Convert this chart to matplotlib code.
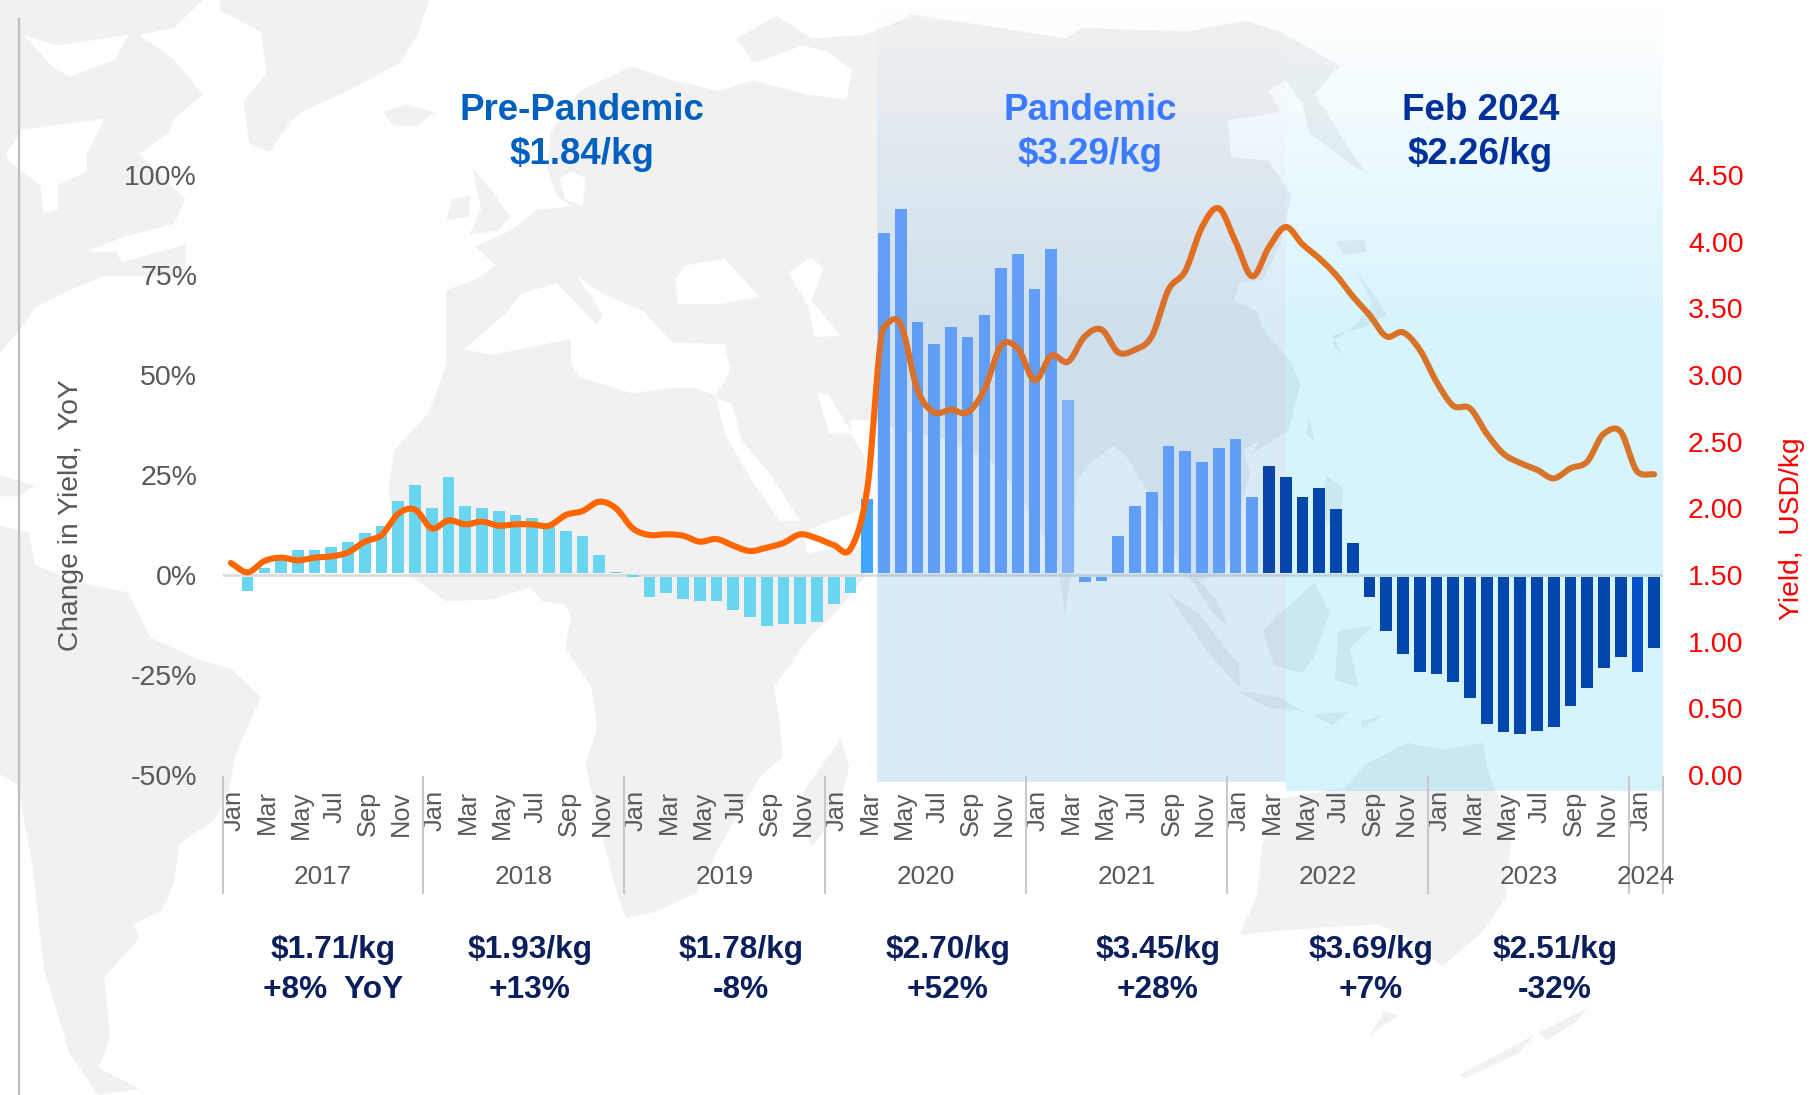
import numpy as np
import matplotlib
matplotlib.use('Agg')
import matplotlib.pyplot as plt
from matplotlib.patches import Polygon
from matplotlib.transforms import ScaledTranslation

plt.rcParams['font.family'] = ['Liberation Sans', 'DejaVu Sans']

months = ['Jan', 'Feb', 'Mar', 'Apr', 'May', 'Jun', 'Jul', 'Aug', 'Sep', 'Oct', 'Nov', 'Dec']
years = [2017, 2018, 2019, 2020, 2021, 2022, 2023, 2024]

# YoY change in yield, %, Jan 2017 - Feb 2024
change = [0.4, -4.0, 1.8, 3.8, 6.2, 6.2, 7.0, 8.2, 10.4, 12.3, 18.5, 22.6,
          16.8, 24.5, 17.2, 16.8, 15.9, 14.9, 14.2, 12.8, 11.0, 9.8, 5.0, 0.8,
          0.0, -5.6, -4.6, -5.9, -6.5, -6.5, -8.7, -10.4, -12.7, -12.3, -12.3, -11.7,
          -7.2, -4.6, 19.0, 85.4, 91.4, 63.2, 57.8, 62.0, 59.4, 64.9, 76.7, 80.2,
          71.6, 81.5, 43.7, -1.7, -1.4, 9.7, 17.2, 20.7, 32.2, 30.9, 28.3, 31.8,
          34.1, 19.4, 27.3, 24.5, 19.4, 21.7, 16.5, 7.9, -5.6, -13.9, -19.7, -24.2,
          -24.8, -26.7, -30.8, -37.2, -39.2, -39.8, -38.9, -37.9, -32.7, -28.3, -23.2, -20.6,
          -24.2, -18.3]

# yield, USD/kg
yield_usd = [1.59, 1.52, 1.605, 1.63, 1.61, 1.63, 1.64, 1.67, 1.75, 1.80, 1.96, 1.99,
             1.85, 1.91, 1.88, 1.90, 1.87, 1.88, 1.88, 1.87, 1.95, 1.98, 2.05, 2.00,
             1.85, 1.80, 1.805, 1.795, 1.75, 1.77, 1.72, 1.68, 1.705, 1.74, 1.805, 1.775,
             1.725, 1.695, 2.14, 3.36, 3.38, 2.89, 2.72, 2.74, 2.72, 2.89, 3.22, 3.20,
             2.96, 3.145, 3.10, 3.29, 3.34, 3.17, 3.19, 3.29, 3.64, 3.78, 4.11, 4.25,
             4.00, 3.74, 3.96, 4.11, 3.98, 3.875, 3.75, 3.59, 3.45, 3.29, 3.32, 3.19,
             2.95, 2.77, 2.75, 2.56, 2.41, 2.34, 2.29, 2.225, 2.30, 2.35, 2.56, 2.575,
             2.275, 2.255]

y_ticks = [100, 75, 50, 25, 0, -25, -50]
y2_ticks = [4.5, 4.0, 3.5, 3.0, 2.5, 2.0, 1.5, 1.0, 0.5, 0.0]

period_names = ['Pre-Pandemic', 'Pandemic', 'Feb 2024']
period_prices = ['$1.84/kg', '$3.29/kg', '$2.26/kg']
annual_prices = ['$1.71/kg', '$1.93/kg', '$1.78/kg', '$2.70/kg', '$3.45/kg', '$3.69/kg', '$2.51/kg']
annual_yoy = ['+8%  YoY', '+13%', '-8%', '+52%', '+28%', '+7%', '-32%']

W, H = 1818, 1095
L, R, T, B = 222.5, 1662.5, 175, 775


def a(*p): return [(x / 1.725, y / 2.861) for x, y in p]
def b(*p): return [(909 + x / 1.725, y / 2.861) for x, y in p]
def c(*p): return [(x / 1.725, 547 + y / 2.861) for x, y in p]
def d(*p): return [(909 + x / 1.725, 547 + y / 2.861) for x, y in p]
def z1(*p): return [(200 + x / 2.24, 400 + y / 3) for x, y in p]
def z2(*p): return [(850 + x / 3, 190 + y / 3) for x, y in p]
def z3(*p): return [(1200 + x / 3, 400 + y / 3) for x, y in p]


land = [
    a((0, 0), (350, 0), (300, 80), (240, 100), (300, 170), (350, 270), (300, 340), (290, 380), (240, 440),
      (320, 570), (300, 640), (210, 680), (150, 720), (200, 720), (210, 750), (320, 700), (320, 790),
      (180, 790), (120, 830), (60, 880), (40, 930), (0, 1010)),
    a((380, 0), (740, 0), (720, 100), (690, 180), (600, 260), (520, 320), (500, 350), (465, 435), (430, 410),
      (420, 290), (460, 210), (450, 90), (380, 30)),
    a((660, 320), (700, 300), (750, 320), (720, 360), (680, 360)),
    a((815, 480), (850, 550), (880, 620), (860, 660), (810, 670), (830, 600)),
    a((770, 630), (780, 570), (810, 560), (810, 620)),
    a((0, 1360), (60, 1390), (30, 1420), (0, 1420)),
    c((0, -60), (50, -40), (60, 50), (130, 100), (220, 130), (260, 260), (340, 320), (400, 350), (450, 430),
      (420, 540), (405, 600), (395, 700), (370, 780), (310, 850), (300, 960), (280, 1040), (230, 1080),
      (240, 1120), (180, 1230), (190, 1400), (170, 1490), (240, 1550), (170, 1568), (120, 1450), (75, 1200),
      (55, 900), (30, 680), (0, 650)),
    # Africa and Eurasia in one run
    a((770, 830), (820, 800), (855, 760), (820, 705), (880, 660), (905, 630), (925, 600), (985, 590),
      (960, 560), (945, 480), (950, 380), (1000, 260), (1090, 190), (1160, 230), (1240, 260), (1300, 230),
      (1390, 270), (1460, 285), (1470, 200), (1430, 150), (1385, 130), (1300, 180), (1270, 110), (1340, 45),
      (1400, 110), (1490, 100), (1568, 50))
    + b((0, 40), (80, 60), (270, 110), (300, 80), (480, 90), (580, 60), (640, 90), (745, 190), (735, 200),
        (700, 270), (785, 490), (770, 480), (690, 380), (680, 300), (650, 230), (620, 260), (640, 320),
        (550, 345), (555, 450), (620, 460), (660, 560), (640, 700), (610, 800), (570, 810), (560, 860),
        (600, 890), (610, 940), (660, 1040), (675, 1100), (655, 1230), (590, 1300))
    + z2((1340, 580), (1330, 680), (1250, 740), (1180, 780), (1200, 850))
    + z3((130, 300), (100, 440), (70, 525))
    + d((500, 95), (530, 150), (550, 225), (525, 190), (490, 100))
    + z2((1000, 1150), (890, 900), (830, 800), (790, 765), (720, 820), (680, 870), (665, 1130), (645, 1270),
         (620, 1100), (500, 900), (430, 820), (300, 750), (180, 725), (60, 690), (0, 690))
    + a((1470, 1250), (1490, 1300))
    + z1((1500, 320), (1450, 345), (1350, 395), (1360, 460), (1440, 440), (1500, 440))
    + c((1490, 90), (1440, 190), (1400, 250), (1335, 400), (1345, 500), (1350, 600), (1310, 660), (1240, 860),
        (1200, 990), (1130, 1045), (1080, 1060), (1070, 1020), (1050, 900), (1030, 770), (1010, 620),
        (1030, 520), (1020, 400), (975, 290), (985, 200), (975, 165), (935, 155), (915, 115), (850, 150),
        (770, 155), (710, 85), (690, 20))
    + a((670, 1400), (680, 1290), (740, 1180), (770, 1040)),
    c((1385, 700), (1420, 620), (1450, 550), (1465, 630), (1440, 780), (1400, 855), (1385, 800)),
    b((735, 690), (785, 685), (790, 720), (750, 730)),
    b((770, 770), (825, 900), (780, 940), (730, 960), (750, 1025), (730, 980), (770, 930), (800, 870)),
    b((690, 1190), (700, 1265), (685, 1240)),
    b((720, 1360), (750, 1400), (740, 1510), (710, 1480)),
    d((445, 130), (500, 190), (570, 340), (570, 400), (520, 310)),
    d((565, 410), (640, 430), (680, 470), (620, 460)),
    d((610, 240), (640, 190), (700, 100), (725, 190), (700, 310), (680, 360), (630, 340)),
    d((740, 240), (800, 225), (760, 290), (775, 400), (735, 380)),
    d((695, 480), (760, 470), (730, 510)),
    d((780, 520), (820, 480), (780, 500)),
    d((570, 1110), (600, 1000), (610, 850), (640, 720), (750, 690), (790, 620), (860, 560), (920, 580),
      (990, 560), (1000, 650), (1040, 800), (1030, 1000), (990, 1100), (920, 1200), (860, 1120), (810, 1080),
      (700, 1090), (620, 1100)),
    d((820, 1330), (845, 1340), (795, 1395)),
    d((1170, 1320), (1150, 1360), (1100, 1410), (1085, 1390)),
    d((1080, 1395), (950, 1510), (960, 1520), (1050, 1450)),
]
seas = [
    a((10, 440), (40, 370), (180, 340), (150, 440), (150, 490), (100, 530), (100, 600), (75, 610), (70, 530),
      (15, 460)),
    a((40, 100), (100, 130), (220, 100), (200, 170), (120, 220), (90, 190)),
    a((800, 1000), (850, 1015), (985, 970), (985, 1040), (1000, 1080), (1090, 1125), (1160, 1110), (1200, 1110),
      (1235, 1130), (1260, 1060), (1250, 985), (1160, 980), (1110, 890), (1040, 840), (995, 790), (1040, 900),
      (1030, 930), (960, 810), (900, 840), (870, 900)),
    a((1180, 760), (1250, 740), (1310, 850), (1240, 870), (1170, 870), (1165, 800)),
    a((1360, 780), (1400, 735), (1420, 770), (1400, 860), (1450, 960), (1405, 965), (1395, 880)),
    a((965, 510), (975, 570), (1005, 590), (1010, 510), (985, 490)),
    a((1410, 1125), (1430, 1130), (1470, 1240), (1430, 1240)),
    a((1235, 1140), (1262, 1155), (1280, 1260), (1330, 1360), (1380, 1490), (1345, 1490), (1295, 1370),
      (1250, 1240)),
]


def smooth(y, n=16):
    # rounded line through the monthly values, tangents limited so the jump in 2020 does not overshoot
    y = np.array(y, dtype=float)
    dy = np.diff(y)
    m = np.zeros(len(y))
    m[0], m[-1] = dy[0], dy[-1]
    for i in range(1, len(y) - 1):
        m[i] = (dy[i - 1] + dy[i]) / 2
        if dy[i - 1] * dy[i] > 0:
            m[i] = np.sign(m[i]) * min(abs(m[i]), 6 * min(abs(dy[i - 1]), abs(dy[i])))
    xs, ys = [], []
    t = np.linspace(0, 1, n, endpoint=False)
    for i in range(len(y) - 1):
        ys.append((2 * t ** 3 - 3 * t ** 2 + 1) * y[i] + (t ** 3 - 2 * t ** 2 + t) * m[i]
                  + (-2 * t ** 3 + 3 * t ** 2) * y[i + 1] + (t ** 3 - t ** 2) * m[i + 1])
        xs.append(i + t)
    return np.concatenate(xs + [[len(y) - 1]]), np.concatenate(ys + [[y[-1]]])


fig = plt.figure(figsize=(W / 100, H / 100), dpi=100)

# background map, in pixels
bg = fig.add_axes([0, 0, 1, 1], zorder=0)
bg.set_xlim(0, W)
bg.set_ylim(H, 0)
bg.axis('off')
for poly in land:
    bg.add_patch(Polygon(poly, closed=True, fc='#F1F1F1', ec='none'))
for poly in seas:
    bg.add_patch(Polygon(poly, closed=True, fc='white', ec='none'))
bg.plot([19, 19], [19, H], color='#BDBDBD', lw=1.6)

ax = fig.add_axes([L / W, 1 - B / H, (R - L) / W, (B - T) / H], zorder=1)
ax.patch.set_alpha(0)
n = len(change)
x = np.arange(n)
colors = []
for i in range(n):
    if i < 38:
        colors.append('#69D5F0')
    elif i == 38:
        colors.append('#40A6FF')
    elif i == 50:
        colors.append('#92B6FF')
    elif i < 62:
        colors.append('#6A9FFF')
    elif i == 84:
        colors.append('#003ABF')
    else:
        colors.append('#002F9F')
ax.bar(x + 0.5, [v - 0.4 if v > 0 else v + 0.4 for v in change], bottom=[0.4 if v > 0 else -0.4 for v in change],
       width=0.7, color=colors, zorder=2)
ax.axhline(0, color='#D9D9D9', lw=1.8, zorder=1)
ax.set_xlim(0, n)
ax.set_ylim(-50, 100)
ax.set_yticks(y_ticks)
ax.set_yticklabels([f'{v}%' for v in y_ticks], fontsize=20.5, color='#595959')
ax.tick_params(axis='y', length=0, pad=25.5 * 0.72)
ax.set_xticks(x[::2] + 0.5)
ax.set_xticklabels([months[i % 12] for i in range(0, n, 2)], rotation=90, fontsize=18.3, color='#595959')
ax.tick_params(axis='x', length=0, pad=11)
shift = ScaledTranslation(3 / 100, 0, fig.dpi_scale_trans)
for lab in ax.get_xticklabels():
    lab.set_transform(lab.get_transform() + shift)
for s in ax.spines.values():
    s.set_visible(False)
ax.set_ylabel('Change in Yield,  YoY', fontsize=20.3, color='#595959')
ax.yaxis.set_label_coords((84 - L) / (R - L), (B - 515) / (B - T))

ax2 = ax.twinx()
ax2.set_zorder(3)
ax2.patch.set_alpha(0)
xs, ys = smooth(yield_usd)
ax2.plot(xs + 0.5, ys, color='#FF6600', lw=4.4, solid_capstyle='round', zorder=3)
ax2.set_ylim(0, 4.5)
ax2.set_yticks(y2_ticks)
ax2.set_yticklabels([f'{v:.2f}' for v in y2_ticks], fontsize=20.5, color='#FF0000')
ax2.tick_params(axis='y', length=0, pad=25.5 * 0.72)
for s in ax2.spines.values():
    s.set_visible(False)
ax2.set_ylabel('Yield,  USD/kg', fontsize=20.3, color='#FF0000')
ax2.yaxis.set_label_coords((1779 - L) / (R - L), (B - 529) / (B - T))

# tinted period bands lie over bars and line
ov = fig.add_axes([0, 0, 1, 1], zorder=5)
ov.set_xlim(0, W)
ov.set_ylim(H, 0)
ov.axis('off')


def band(x0, x1, y1, rgb, alpha):
    h = int(y1)
    img = np.zeros((h, 2, 4))
    img[..., :3] = np.array(rgb) / 255
    img[..., 3] = (alpha * np.clip(np.arange(h) / 320, 0, 1))[:, None]
    ov.imshow(img, extent=(x0, x1, y1, 0), aspect='auto', interpolation='bilinear', zorder=1)


band(877, 1286, 782, (65, 155, 220), 0.20)
band(1286, R, 791, (20, 190, 243), 0.17)
ov.set_xlim(0, W)
ov.set_ylim(H, 0)

# year separators and labels
ticks = [L + i * 12 * (R - L) / n for i in range(8)] + [R]
for t in ticks:
    ov.plot([t, t], [777, 893], color='#C9C9C9', lw=1.5, zorder=2)
for i, yr in enumerate(years):
    ov.text((ticks[i] + ticks[i + 1]) / 2, 877, str(yr), fontsize=18.8, color='#595959', ha='center', va='center')

head_x = [582, 1090, 1480.5]
head_colors = ['#0060BF', '#3C7BFF', '#00309A']
for px, name, price, col in zip(head_x, period_names, period_prices, head_colors):
    ov.text(px, 110, name, fontsize=26.5, fontweight='bold', color=col, ha='center', va='center')
    ov.text(px, 154, price, fontsize=26.5, fontweight='bold', color=col, ha='center', va='center')

annual_x = [333, 530, 741, 948, 1158, 1371, 1555]
for px, price, yoy in zip(annual_x, annual_prices, annual_yoy):
    ov.text(px, 950, price, fontsize=22.8, fontweight='bold', color='#0B1F5C', ha='center', va='center')
    ov.text(px, 990, yoy, fontsize=22.8, fontweight='bold', color='#0B1F5C', ha='center', va='center')

fig.savefig('out.png', dpi=100)
